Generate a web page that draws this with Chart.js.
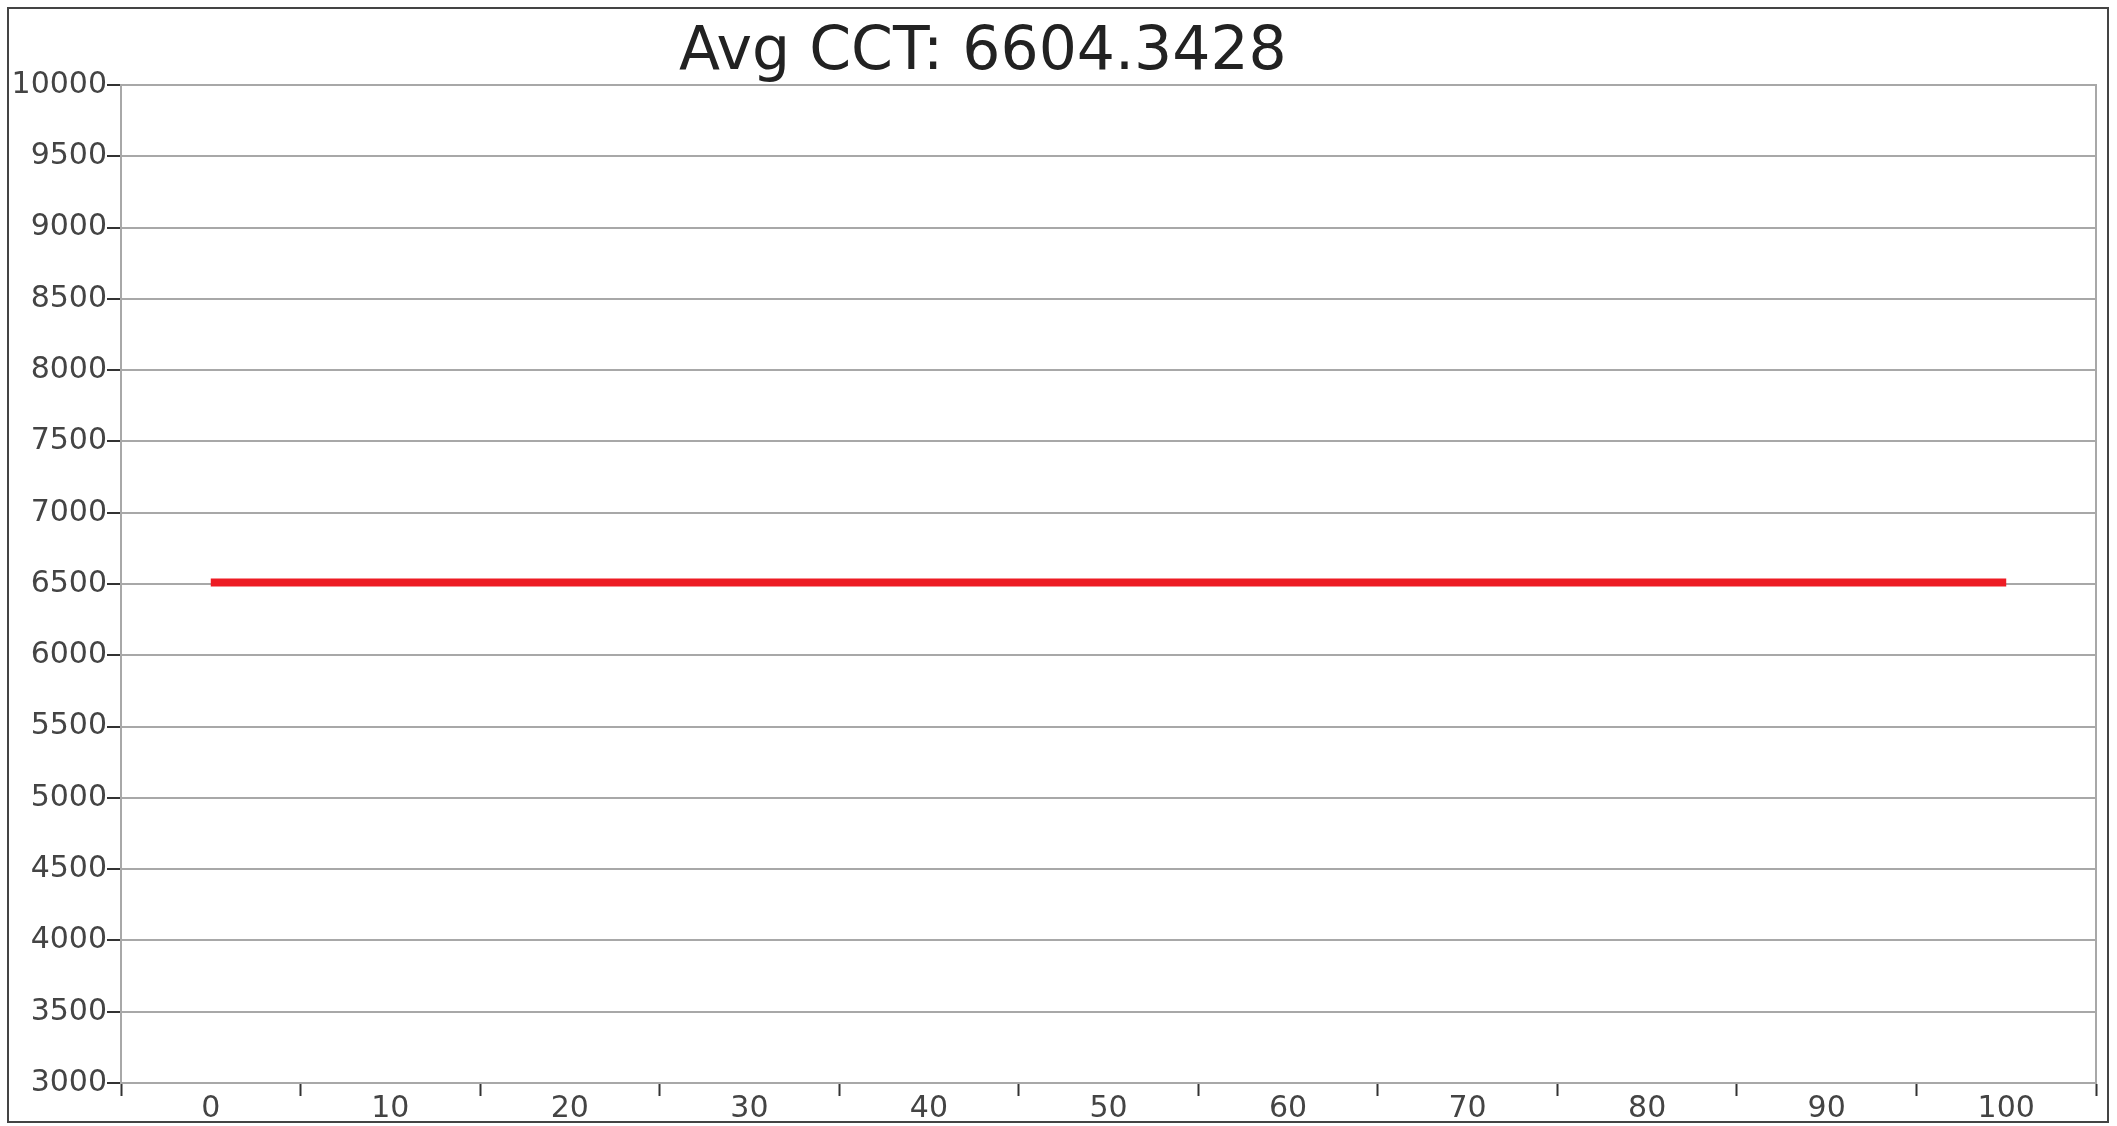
<!DOCTYPE html>
<html>
<head>
<meta charset="utf-8">
<script src="https://cdn.jsdelivr.net/npm/chart.js@4.4.0/dist/chart.umd.min.js"></script>
<style>
  html, body { margin: 0; padding: 0; background: #fff; }
  #wrap { position: relative; width: 2117px; height: 1126px; }
  #frame { position: absolute; left: 7px; top: 7px; width: 2098px; height: 1112px; border: 2px solid #444; pointer-events: none; }
  #title { position: absolute; left: 679px; top: 19px; font-family: "DejaVu Sans", sans-serif; font-size: 60px; line-height: 58px; color: #222; white-space: nowrap; }
</style>
</head>
<body>
<div id="wrap">
  <canvas id="cctChart"></canvas>
  <div id="frame"></div>
  <div id="title">Avg CCT: 6604.3428</div>
</div>
<script>
// x categories (percent position) and the CCT reading at each
var xLabels = ['0', '10', '20', '30', '40', '50', '60', '70', '80', '90', '100'];
var cctValues = [6510, 6510, 6510, 6510, 6510, 6510, 6510, 6510, 6510, 6510, 6510];
var yMin = 3000;
var yMax = 10000;
var yStep = 500;

var ctx = document.getElementById('cctChart');
new Chart(ctx, {
    type: 'line',
    data: {
        labels: xLabels,
        datasets: [
            {
                data: cctValues,
                borderColor: '#ed1c24',
                backgroundColor: '#ed1c24',
                borderWidth: 8,
                pointRadius: 0,
                tension: 0
            }
        ]
    },
    options: {
        responsive: true,
        maintainAspectRatio: false,
        animation: false,
        layout: {
            padding: { top: 85, right: 13, bottom: 0, left: 0 }
        },
        plugins: {
            legend: { display: false },
            title: { display: false },
            tooltip: { enabled: false }
        },
        scales: {
            x: {
                type: 'category',
                offset: true,
                grid: {
                    offset: true,
                    drawOnChartArea: false,
                    drawTicks: true,
                    tickLength: 13,
                    tickColor: '#333',
                    tickWidth: 2
                },
                border: { display: true, color: '#a8a8a8', width: 2 },
                ticks: {
                    color: '#444',
                    padding: -5,
                    maxRotation: 0,
                    font: { family: 'DejaVu Sans', size: 30 }
                },
                afterFit: function(scale) { scale.height = 43; }
            },
            y: {
                min: yMin,
                max: yMax,
                ticks: {
                    stepSize: yStep,
                    padding: 0,
                    color: '#444',
                    font: { family: 'DejaVu Sans', size: 30 },
                    callback: function(v) { return String(v); }
                },
                grid: {
                    color: '#a8a8a8',
                    lineWidth: 2,
                    tickLength: 14,
                    tickColor: '#333',
                    tickWidth: 2
                },
                border: { display: true, color: '#a8a8a8', width: 2 },
                afterFit: function(scale) { scale.width = 121; }
            },
            y2: {
                position: 'right',
                min: yMin,
                max: yMax,
                ticks: { display: false },
                grid: { display: false },
                border: { display: true, color: '#a8a8a8', width: 2 }
            }
        }
    }
});
</script>
</body>
</html>
